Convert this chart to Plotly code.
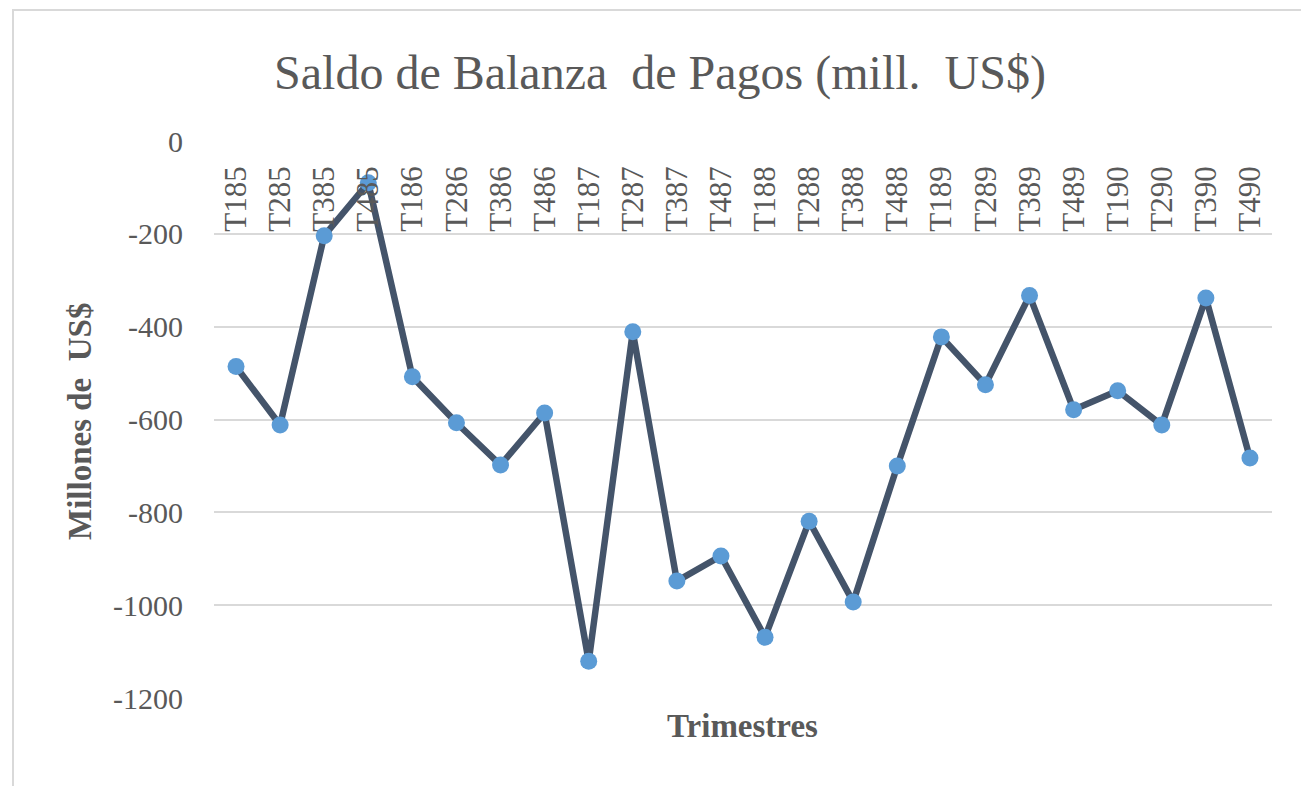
import plotly.graph_objects as go

categories = ["T185", "T285", "T385", "T485", "T186", "T286", "T386", "T486",
              "T187", "T287", "T387", "T487", "T188", "T288", "T388", "T488",
              "T189", "T289", "T389", "T489", "T190", "T290", "T390", "T490"]
saldo = [-486, -612, -204, -90, -508, -607, -698, -586,
         -1121, -411, -948, -894, -1069, -819, -993, -700,
         -422, -525, -333, -579, -538, -612, -338, -683]
y_tickvals = [0, -200, -400, -600, -800, -1000, -1200]
y_ticktext = ["0", "-200", "-400", "-600", "-800", "-1000", "-1200"]

title_text = "Saldo de Balanza \u00a0de Pagos (mill. \u00a0US$)"
y_title = "Millones de \u00a0US$"
x_title = "Trimestres"

SERIF = "Liberation Serif, Times New Roman, serif"
GRAY = "#595959"

fig = go.Figure()
fig.add_trace(go.Scatter(
    x=categories, y=saldo, mode="lines+markers",
    line=dict(color="#44546a", width=6.5),
    marker=dict(color="#5b9bd5", size=17),
    showlegend=False,
))

L, R, T, B = 214, 29, 141, 88
W, H = 1301, 786
pw, ph = W - L - R, H - T - B

def px_x(x):
    return (x - L) / pw

def px_y(y):
    return (H - B - y) / ph

fig.update_layout(
    width=W, height=H,
    margin=dict(l=L, r=R, t=T, b=B),
    paper_bgcolor="white", plot_bgcolor="white",
    title=dict(text=title_text, x=660 / W, y=1 - 72 / H, xanchor="center", yanchor="middle",
               font=dict(family=SERIF, size=48, color=GRAY)),
    xaxis=dict(
        type="category", range=[-0.5, len(categories) - 0.5],
        anchor="free", position=1, side="bottom",
        showgrid=False, showline=False, zeroline=False, ticks="",
        tickangle=-90, ticklabelstandoff=18,
        tickfont=dict(family=SERIF, size=31, color=GRAY),
    ),
    yaxis=dict(
        range=[-1200, 0], tickvals=y_tickvals, ticktext=y_ticktext,
        showgrid=True, gridcolor="#d9d9d9", gridwidth=1.5,
        zeroline=False, showline=False, ticks="", ticklabelstandoff=30,
        tickfont=dict(family=SERIF, size=30, color=GRAY),
    ),
    annotations=[
        dict(text=x_title, xref="paper", yref="paper", x=px_x(742), y=px_y(726),
             xanchor="center", yanchor="middle", showarrow=False,
             font=dict(family=SERIF, size=33, color=GRAY, weight="bold")),
        dict(text=y_title, xref="paper", yref="paper", x=px_x(80), y=px_y(422),
             xanchor="center", yanchor="middle", showarrow=False, textangle=-90,
             font=dict(family=SERIF, size=33, color=GRAY, weight="bold")),
    ],
    shapes=[
        dict(type="rect", xref="paper", yref="paper",
             x0=px_x(13), x1=px_x(1310), y0=px_y(795), y1=px_y(10),
             line=dict(color="#d9d9d9", width=2), fillcolor="rgba(0,0,0,0)", layer="below"),
    ],
)

fig.write_html(
    "out.html",
    config={"displayModeBar": False},
    post_script="document.body.style.margin='0';document.body.style.padding='0';document.body.style.overflow='hidden';",
)
